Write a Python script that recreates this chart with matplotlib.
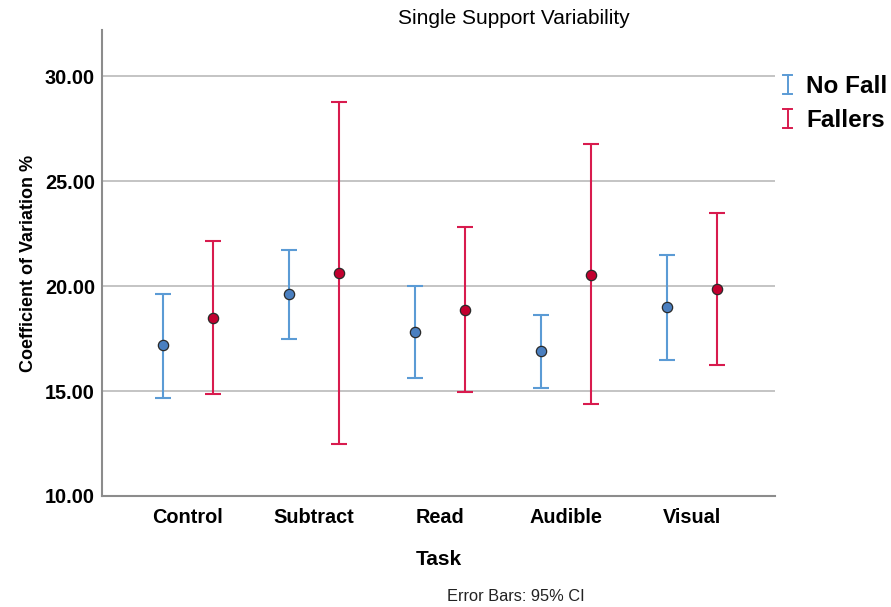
import matplotlib
matplotlib.use("Agg")
import matplotlib.pyplot as plt
import numpy as np
from matplotlib.legend_handler import HandlerBase
from matplotlib.lines import Line2D

plt.rcParams['font.family'] = ['Liberation Sans', 'DejaVu Sans']

tasks = ["Control", "Subtract", "Read", "Audible", "Visual"]
groups = ["No Fall", "Fallers"]

nofall_mean = [17.17, 19.64, 17.83, 16.90, 19.01]
nofall_low = [14.69, 17.50, 15.64, 15.15, 16.50]
nofall_high = [19.64, 21.74, 19.98, 18.64, 21.47]

fallers_mean = [18.50, 20.60, 18.88, 20.55, 19.88]
fallers_low = [14.88, 12.50, 14.93, 14.36, 16.26]
fallers_high = [22.17, 28.79, 22.83, 26.75, 23.50]

line_colors = ["#5b9bd5", "#d81b4e"]
fill_colors = ["#4a7fc0", "#c2002f"]

fig = plt.figure(figsize=(8.91, 6.07), dpi=100)
ax = fig.add_axes([0.1145, 0.1829, 0.7553, 0.7677])

x = np.arange(len(tasks))
offset = 0.2
series = [
    (nofall_mean, nofall_low, nofall_high),
    (fallers_mean, fallers_low, fallers_high),
]
for i, (m, lo, hi) in enumerate(series):
    m = np.array(m); lo = np.array(lo); hi = np.array(hi)
    xs = x + (i - 0.5) * 2 * offset
    ax.errorbar(xs, m, yerr=[m - lo, hi - m], fmt='none', ecolor=line_colors[i],
                elinewidth=1.5, capsize=6, capthick=1.5, zorder=3)
    ax.scatter(xs, m, s=55, color=fill_colors[i], edgecolor="#2a2a2a",
               linewidth=0.9, zorder=4)

ax.set_xlim(-0.68, 4.66)
ax.set_ylim(10, 32.2)
ax.set_yticks([10, 15, 20, 25, 30])
ax.set_yticklabels([f"{v:.2f}" for v in [10, 15, 20, 25, 30]])
ax.set_xticks(x)
ax.set_xticklabels(tasks)
ax.yaxis.grid(True, color="#b4b4b4", linewidth=1.1)
ax.set_axisbelow(True)
for s in ["top", "right"]:
    ax.spines[s].set_visible(False)
for s in ["left", "bottom"]:
    ax.spines[s].set_color("#8c8c8c")
    ax.spines[s].set_linewidth(1.5)
ax.tick_params(length=0, labelsize=14.3, pad=5)
for lab in ax.get_xticklabels() + ax.get_yticklabels():
    lab.set_fontweight("bold")
ax.tick_params(axis='x', pad=9)

fig.text(0.577, 0.969, "Single Support Variability", ha="center", va="center",
         fontsize=15)
ax.set_xlabel("Task", fontsize=15, fontweight="bold", labelpad=16)
ax.set_ylabel("Coefficient of Variation %", fontsize=13, fontweight="bold", labelpad=6)

fig.text(0.579, 0.018, "Error Bars: 95% CI", ha="center", va="center", fontsize=11.8,
         color="#222222")


class HandlerCI(HandlerBase):
    def create_artists(self, legend, orig_handle, xdescent, ydescent, width, height,
                       fontsize, trans):
        c = orig_handle.get_color()
        cx = width / 2 - xdescent
        y0 = -ydescent - 0.05 * height
        y1 = -ydescent + 1.05 * height
        cw = 0.3 * width
        arts = [
            Line2D([cx, cx], [y0, y1], color=c, lw=1.4),
            Line2D([cx - cw, cx + cw], [y0, y0], color=c, lw=1.4),
            Line2D([cx - cw, cx + cw], [y1, y1], color=c, lw=1.4),
        ]
        for a in arts:
            a.set_transform(trans)
        return arts


handles = [Line2D([], [], color=line_colors[0]), Line2D([], [], color=line_colors[1])]
leg = fig.legend(handles, groups, loc="upper left", bbox_to_anchor=(0.876, 0.876),
                 frameon=False, handler_map={Line2D: HandlerCI()},
                 prop={"size": 17.5, "weight": "bold"}, handlelength=0.6,
                 handletextpad=0.45, labelspacing=0.45, borderaxespad=0, borderpad=0)

fig.savefig("out.png", dpi=100)
